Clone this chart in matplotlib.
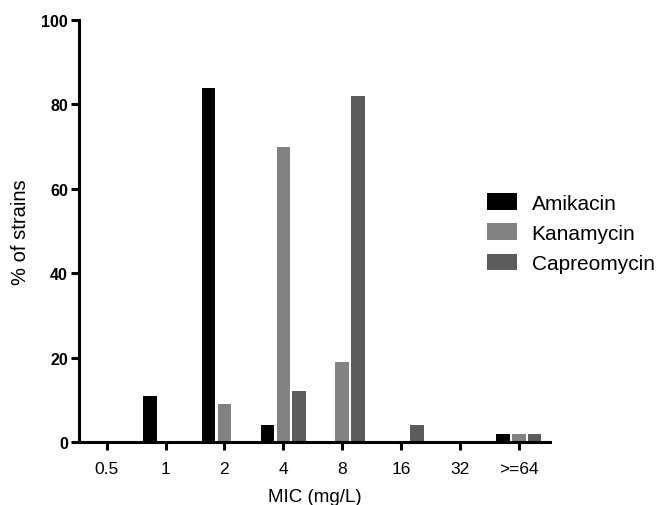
import matplotlib
matplotlib.use("Agg")
import matplotlib.pyplot as plt
import numpy as np

plt.rcParams['font.family'] = ['Liberation Sans', 'DejaVu Sans']

categories = ['0.5', '1', '2', '4', '8', '16', '32', '>=64']
amikacin = [0, 11, 84, 4, 0, 0, 0, 2]
kanamycin = [0, 0, 9, 70, 19, 0, 0, 2]
capreomycin = [0, 0, 0, 12, 82, 4, 0, 2]
series_names = ['Amikacin', 'Kanamycin', 'Capreomycin']
colors = ['#000000', '#828282', '#5c5c5c']

fig = plt.figure(figsize=(6.58, 5.06), dpi=100)
ax = fig.add_axes([0.12, 0.1245, 0.716, 0.834])

x = np.arange(len(categories))
step = 0.268
width = 0.23
for i, (vals, name, c) in enumerate(zip([amikacin, kanamycin, capreomycin], series_names, colors)):
    ax.bar(x + (i - 1) * step, vals, width=width, color=c, label=name, zorder=2)

ax.set_xlim(-0.47, 7.53)
ax.set_ylim(0, 100)
ax.set_yticks([0, 20, 40, 60, 80, 100])
ax.set_xticks(x)
ax.set_xticklabels(categories, fontsize=12.5)
for lab in ax.get_yticklabels():
    lab.set_fontweight('bold')
    lab.set_fontsize(11.5)
for s in ['top', 'right']:
    ax.spines[s].set_visible(False)
for s in ['left', 'bottom']:
    ax.spines[s].set_linewidth(2.2)
ax.tick_params(axis='both', width=2.2, length=6, direction='out')
ax.tick_params(axis='x', pad=8)
ax.tick_params(axis='y', pad=2)
ax.set_xlabel('MIC (mg/L)', fontsize=13.5, labelpad=8)
ax.set_ylabel('% of strains', fontsize=14.5, labelpad=8)

leg = ax.legend(loc='upper left', bbox_to_anchor=(0.866, 0.59), frameon=False,
                borderaxespad=0, borderpad=0,
                fontsize=15, handlelength=1.45, handleheight=0.85, labelspacing=0.52,
                handletextpad=0.7)

fig.savefig('out.png', dpi=100)
